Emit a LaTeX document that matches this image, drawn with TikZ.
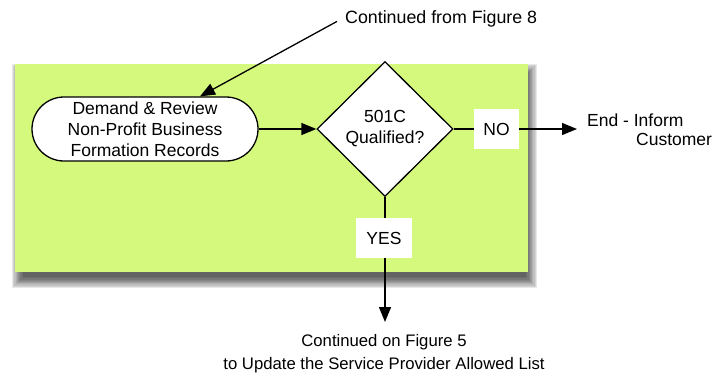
\documentclass[tikz,border=0pt]{standalone}
\usepackage{fontspec}
\setmainfont{Liberation Sans}
\usetikzlibrary{shapes.geometric,arrows.meta}
\definecolor{panel}{RGB}{213,249,125}
\begin{document}
\begin{tikzpicture}[x=1pt,y=-1pt,
  every node/.style={font=\fontsize{17.5}{21}\selectfont, inner sep=0pt},
  conn/.style={line width=1.3pt, -{Triangle[length=15pt,width=12pt]}},
  plain/.style={line width=1.3pt},
  tag/.style={fill=white, minimum height=40pt},
  outline/.style={draw, line width=1.3pt, fill=white, align=center},
]
\useasboundingbox (0,0) rectangle (713,375);

% soft drop shadow under the panel
\foreach \i in {0,...,9} {
  \fill[black, opacity=0.09] (12+1.2*\i,64+1.2*\i) rectangle (537-1.2*\i,288-1.2*\i);
}
% panel
\fill[panel] (15,64) rectangle (528,272);

% process steps
\node[outline, rounded corners=32pt, minimum width=226pt, minimum height=64pt]
  (review) at (145,129) {Demand \& Review\\Non-Profit Business\\Formation Records};
\node[outline, diamond, aspect=1, minimum width=136pt, minimum height=135pt]
  (q) at (385,129) {501C\\Qualified?};

% branch labels
\node[tag, minimum width=45pt] (no) at (496.5,129) {NO};
\node[tag, minimum width=56pt] (yes) at (384,238) {YES};

% off-page references
\node[anchor=base west, font=\fontsize{17.8}{21}\selectfont] (src) at (345,23) {Continued from Figure 8};
\node[anchor=base west] (endA) at (587,126) {End - Inform};
\node[anchor=base west] (endB) at (636,145) {Customer};
\node[anchor=base, align=center, font=\fontsize{16.7}{21}\selectfont] (dst) at (384,369)
  {Continued on Figure 5\\[2pt]to Update the Service Provider Allowed List};
\coordinate (noend) at (577,129);
\coordinate (down) at (385,322);

% connectors
\draw[conn] ([xshift=-8pt,yshift=-3pt]src.west) -- ([xshift=55pt]review.north);
\draw[conn] (review.east) -- (q.west);
\draw[plain] (q.east) -- (no.west);
\draw[conn] (no.east) -- (noend);
\draw[plain] (q.south) -- (yes.north -| q.south);
\draw[conn] (yes.south -| q.south) -- (down);
\end{tikzpicture}
\end{document}
